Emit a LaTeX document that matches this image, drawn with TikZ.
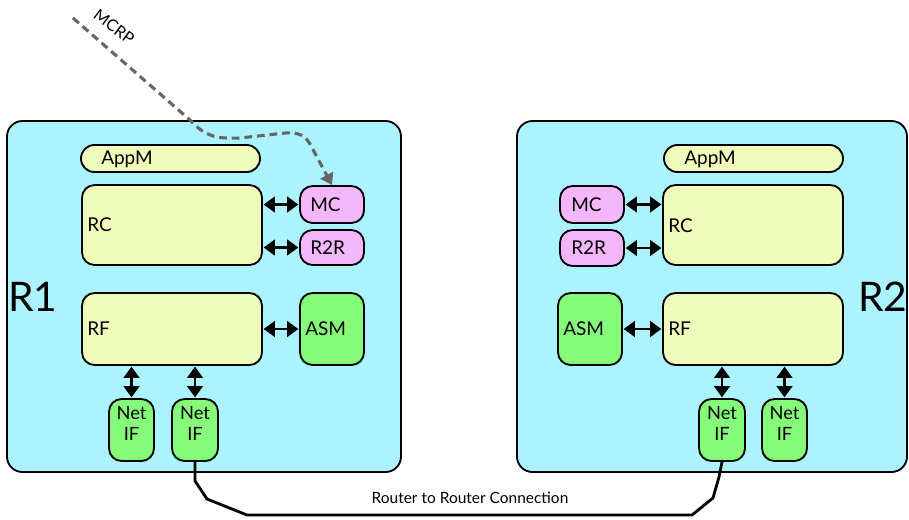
\documentclass[tikz,border=0pt]{standalone}
\usepackage{fontspec}
\setmainfont{Lato}
\usetikzlibrary{arrows.meta,fit}

\definecolor{routercyan}{HTML}{ABF4FF}
\definecolor{unityellow}{HTML}{EFFBBB}
\definecolor{ctrlpink}{HTML}{F4B6FC}
\definecolor{ifgreen}{HTML}{86FB7A}
\definecolor{mcrpgray}{HTML}{666666}

\tikzset{
  router/.style={draw, line width=1.3pt, fill=routercyan, rounded corners=11pt, inner sep=0pt},
  unit/.style={draw, line width=1.3pt, fill=unityellow, rounded corners=9pt, inner sep=0pt},
  appbar/.style={unit, rounded corners=9.5pt},
  ctrl/.style={draw, line width=1.3pt, fill=ctrlpink, rounded corners=9pt, inner sep=0pt},
  netif/.style={draw, line width=1.3pt, fill=ifgreen, rounded corners=9pt, inner sep=0pt, align=center, font=\fontsize{13}{15}\selectfont},
  lbl/.style={anchor=west, inner sep=0pt, font=\fontsize{13.5}{15}\selectfont},
  biarrow/.style={{Triangle[length=8pt,width=11pt]}-{Triangle[length=8pt,width=11pt]}, line width=2pt, shorten <=0.5pt, shorten >=0.5pt},
  mcrp/.style={-{Triangle[length=8pt,width=10pt]}, mcrpgray, line width=2.2pt, dash pattern=on 5.5pt off 3.5pt},
  link/.style={line width=2pt, line join=round}
}

\begin{document}
\begin{tikzpicture}[x=0.025cm, y=-0.025cm]
  \useasboundingbox (0,0) rectangle (909,520);

  % routers
  \node[router, fit={(7,121) (401,472)}] (r1) {};
  \node[router, fit={(517,121) (907,472)}] (r2) {};
  \node[anchor=center, font=\fontsize{29}{32}\selectfont] (r1name) at (33,297) {R1};
  \node[anchor=center, font=\fontsize{29}{32}\selectfont] (r2name) at (883,297) {R2};

  % R1 blocks
  \node[appbar, fit={(81,145) (260,172)}] (r1app) {};
  \node[lbl] (r1appt) at (101,159) {AppM};
  \node[unit, fit={(82,185) (262,265)}] (r1rc) {};
  \node[lbl] (r1rct) at (87,225) {RC};
  \node[ctrl, fit={(300,186) (364,223)}] (r1mc) {};
  \node[lbl] (r1mct) at (310,205) {MC};
  \node[ctrl, fit={(300,230) (364,265)}] (r1r2r) {};
  \node[lbl] (r1r2rt) at (310,248) {R2R};
  \node[unit, fit={(82,293) (262,365)}] (r1rf) {};
  \node[lbl] (r1rft) at (87,329) {RF};
  \node[netif, fit={(300,293) (364,365)}] (r1asm) {};
  \node[lbl] (r1asmt) at (305,329) {ASM};
  \node[netif, fit={(109,399) (154,461)}] (r1if1) {Net\\IF};
  \node[netif, fit={(172,399) (218,461)}] (r1if2) {Net\\IF};

  % R2 blocks
  \node[appbar, fit={(664,145) (843,172)}] (r2app) {};
  \node[lbl] (r2appt) at (684,159) {AppM};
  \node[unit, fit={(663,185) (843,265)}] (r2rc) {};
  \node[lbl] (r2rct) at (668,226) {RC};
  \node[ctrl, fit={(560,186) (624,223)}] (r2mc) {};
  \node[lbl] (r2mct) at (571,205) {MC};
  \node[ctrl, fit={(560,230) (624,266)}] (r2r2r) {};
  \node[lbl] (r2r2rt) at (571,248) {R2R};
  \node[unit, fit={(663,293) (843,365)}] (r2rf) {};
  \node[lbl] (r2rft) at (668,329) {RF};
  \node[netif, fit={(558,293) (622,365)}] (r2asm) {};
  \node[lbl] (r2asmt) at (563,329) {ASM};
  \node[netif, fit={(699,399) (745,461)}] (r2if1) {Net\\IF};
  \node[netif, fit={(762,399) (807,461)}] (r2if2) {Net\\IF};

  % internal links R1
  \draw[biarrow] (r1rc.east |- r1mc) -- (r1mc.west);
  \draw[biarrow] (r1rc.east |- r1r2r) -- (r1r2r.west);
  \draw[biarrow] (r1rf.east |- r1asm) -- (r1asm.west);
  \draw[biarrow] (r1rf.south -| r1if1) -- (r1if1.north);
  \draw[biarrow] (r1rf.south -| r1if2) -- (r1if2.north);

  % internal links R2
  \draw[biarrow] (r2mc.east) -- (r2rc.west |- r2mc);
  \draw[biarrow] (r2r2r.east) -- (r2rc.west |- r2r2r);
  \draw[biarrow] (r2asm.east) -- (r2rf.west |- r2asm);
  \draw[biarrow] (r2rf.south -| r2if1) -- (r2if1.north);
  \draw[biarrow] (r2rf.south -| r2if2) -- (r2if2.north);

  % router to router link
  \draw[link] (r1if2.south) -- ++(0,19) -- (207,499) -- (247,515) -- (692,515)
    -- (713,498) -- (719,477) -- (r2if1.south);
  \node[font=\fontsize{11}{13}\selectfont] (linklbl) at (470,498) {Router to Router Connection};

  % MCRP input
  \coordinate (mcrpin) at (73,18);
  \draw[mcrp] (mcrpin) -- (190,120) .. controls (205,136) and (215,139) .. (240,138)
    -- (285,133) .. controls (300,132) and (305,136) .. (310,144) -- (r1mc.north);
  \node[rotate=-37, inner sep=1pt, font=\fontsize{11.5}{13}\selectfont] (mcrplbl) at (114,27) {MCRP};
\end{tikzpicture}
\end{document}
